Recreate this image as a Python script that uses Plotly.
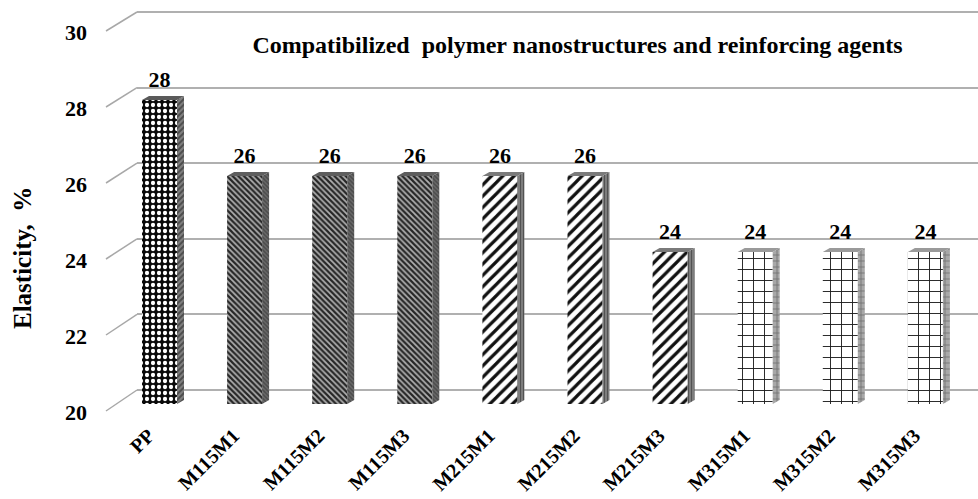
import plotly.graph_objects as go

# ---------------- data ----------------
categories = ["PP", "M115M1", "M115M2", "M115M3", "M215M1",
              "M215M2", "M215M3", "M315M1", "M315M2", "M315M3"]
elasticity = [28, 26, 26, 26, 26, 26, 24, 24, 24, 24]
y_ticks = [20, 22, 24, 26, 28, 30]
title_text = "Compatibilized  polymer nanostructures and reinforcing agents"
y_title = "Elasticity,  %"

# ---------------- geometry / style ----------------
W, H = 978, 499
MB = 85                       # bottom margin
PH = H - MB                   # plot-area height in px
BASE = 20                     # axis floor value
PXF = 38.0                    # px per unit (front plane)
PXB = 37.8                    # px per unit (back wall)
FRONT_FLOOR = 404             # px of value 20 on front plane
BACK_FLOOR = 390              # px of value 20 on back wall
LABEL_FLOOR = 412             # px of value-20 tick label
STEP = 85.1                   # px between bars
FIRST = 159.5                 # px centre of first bar
BAR_W = 35 / STEP             # front face width (x units)
DX = 7 / STEP                 # depth offset x
DY = 4 / PXF                  # depth offset y
SERIF = "Liberation Serif, Times New Roman, serif"

idx = list(range(len(categories)))

style_of = {"PP": "check", "M115": "dense", "M215": "diag", "M315": "grid"}
def style(cat):
    return style_of["PP"] if cat == "PP" else style_of[cat[:4]]

front_pat = {
    "check": dict(shape=".", fgcolor="white", bgcolor="#0a0a0a", size=6, solidity=0.4),
    "dense": dict(shape="\\", fgcolor="#262626", bgcolor="#b0b0b0", size=4, solidity=0.55),
    "diag":  dict(shape="/", fgcolor="#111111", bgcolor="white", size=8, solidity=0.4),
    "grid":  dict(shape="+", fgcolor="#1a1a1a", bgcolor="white", size=11, solidity=0.16),
}
side_pat = {
    "check": dict(shape="/", fgcolor="#1a1a1a", bgcolor="#808080", size=4, solidity=0.5),
    "dense": dict(shape="\\", fgcolor="#2a2a2a", bgcolor="#6a6a6a", size=3, solidity=0.5),
    "diag":  dict(shape="|", fgcolor="#1a1a1a", bgcolor="#8a8a8a", size=3, solidity=0.5),
    "grid":  dict(shape="+", fgcolor="#333333", bgcolor="#a8a8a8", size=6, solidity=0.25),
}
top_color = {"check": "#5a5a5a", "dense": "#5e5e5e", "diag": "#7a7a7a", "grid": "#9a9a9a"}

fig = go.Figure()

# invisible trace so the back-wall subplot exists
fig.add_trace(go.Scatter(x=[0], y=[BASE], mode="none", xaxis="x", yaxis="y",
                         showlegend=False, hoverinfo="skip"))
# invisible trace so the tick-label axis is drawn
fig.add_trace(go.Scatter(x=[0], y=[BASE], mode="none", xaxis="x2", yaxis="y3",
                         showlegend=False, hoverinfo="skip"))

# front faces
styles = [style(c) for c in categories]
fig.add_trace(go.Bar(
    x=idx, y=[v - BASE for v in elasticity], base=BASE, width=BAR_W,
    xaxis="x2", yaxis="y2", showlegend=False,
    marker=dict(
        line=dict(width=0),
        pattern=dict(
            shape=[front_pat[s]["shape"] for s in styles],
            fgcolor=[front_pat[s]["fgcolor"] for s in styles],
            bgcolor=[front_pat[s]["bgcolor"] for s in styles],
            size=[front_pat[s]["size"] for s in styles],
            solidity=[front_pat[s]["solidity"] for s in styles],
            fillmode="replace",
        ),
    ),
))

# side and top faces (3-D look), grouped by style
for s in ["check", "dense", "diag", "grid"]:
    sx, sy, tx, ty = [], [], [], []
    for i, v, st in zip(idx, elasticity, styles):
        if st != s:
            continue
        xl, xr = i - BAR_W / 2, i + BAR_W / 2
        sx += [xr, xr + DX, xr + DX, xr, xr, None]
        sy += [BASE, BASE + DY, v + DY, v, BASE, None]
        tx += [xl, xl + DX, xr + DX, xr, xl, None]
        ty += [v, v + DY, v + DY, v, v, None]
    fig.add_trace(go.Scatter(x=sx, y=sy, xaxis="x2", yaxis="y2", mode="lines",
                             line=dict(width=0), fill="toself",
                             fillcolor=side_pat[s]["bgcolor"],
                             fillpattern=side_pat[s],
                             showlegend=False, hoverinfo="skip"))
    fig.add_trace(go.Scatter(x=tx, y=ty, xaxis="x2", yaxis="y2", mode="lines",
                             line=dict(width=0), fill="toself",
                             fillcolor=top_color[s],
                             showlegend=False, hoverinfo="skip"))

# value labels
fig.add_trace(go.Scatter(
    x=idx, y=[v + 0.5 for v in elasticity], text=[str(v) for v in elasticity],
    mode="text", xaxis="x2", yaxis="y2", showlegend=False, hoverinfo="skip",
    textfont=dict(family=SERIF, size=22, color="black", weight="bold"),
))

# ---------------- axes ----------------
def yrange(floor_px, px):
    return [BASE - (PH - floor_px) / px, BASE + floor_px / px]

x0 = -FIRST / STEP
xrange_front = [x0, x0 + W / STEP]

# diagonals linking tick labels to back wall
shapes = []
for t in y_ticks:
    back_px = BACK_FLOOR - (t - BASE) * PXB
    front_px = LABEL_FLOOR - (t - BASE) * PXF - 1
    shapes.append(dict(type="line", xref="paper", yref="paper",
                       x0=106 / W, x1=137 / W,
                       y0=(PH - front_px) / PH, y1=(PH - back_px) / PH,
                       line=dict(color="#a8a8a8", width=1.5)))

fig.update_layout(
    width=W, height=H,
    margin=dict(l=0, r=0, t=0, b=MB, autoexpand=False),
    paper_bgcolor="white", plot_bgcolor="rgba(0,0,0,0)",
    barmode="overlay",
    title=dict(text=title_text, x=577.5 / W, xanchor="center",
               y=1 - 45 / H, yanchor="middle",
               font=dict(family=SERIF, size=24, color="black", weight="bold")),
    xaxis=dict(domain=[137 / W, 1], range=[0, 1], visible=False, showgrid=False),
    yaxis=dict(domain=[0, 1], anchor="x", range=yrange(BACK_FLOOR, PXB),
               tickvals=y_ticks, showgrid=True, gridcolor="#b0b0b0", gridwidth=2,
               showticklabels=False, zeroline=False, showline=False, ticks=""),
    xaxis2=dict(domain=[0, 1], anchor="y2", range=xrange_front,
                tickvals=idx, ticktext=categories, tickangle=-45,
                ticklabelshift=-11, ticklabelstandoff=5,
                tickfont=dict(family=SERIF, size=20, color="black", weight="bold"),
                showgrid=False, zeroline=False, showline=False, ticks=""),
    yaxis2=dict(domain=[0, 1], anchor="x2", range=yrange(FRONT_FLOOR, PXF),
                showgrid=False, zeroline=False, showticklabels=False, ticks=""),
    yaxis3=dict(overlaying="y2", anchor="free", position=87 / W, side="left",
                range=yrange(LABEL_FLOOR, PXF), tickvals=y_ticks,
                tickfont=dict(family=SERIF, size=22, color="black", weight="bold"),
                showgrid=False, zeroline=False, showline=False, ticks=""),
    shapes=shapes,
    annotations=[dict(text=y_title, textangle=-90, xref="paper", yref="paper",
                      x=22 / W, y=(PH - 258) / PH, xanchor="center", yanchor="middle",
                      showarrow=False,
                      font=dict(family=SERIF, size=25, color="black", weight="bold"))],
)

fig.write_html("out.html", config={"displayModeBar": False},
               post_script="document.body.style.margin='0px';")
